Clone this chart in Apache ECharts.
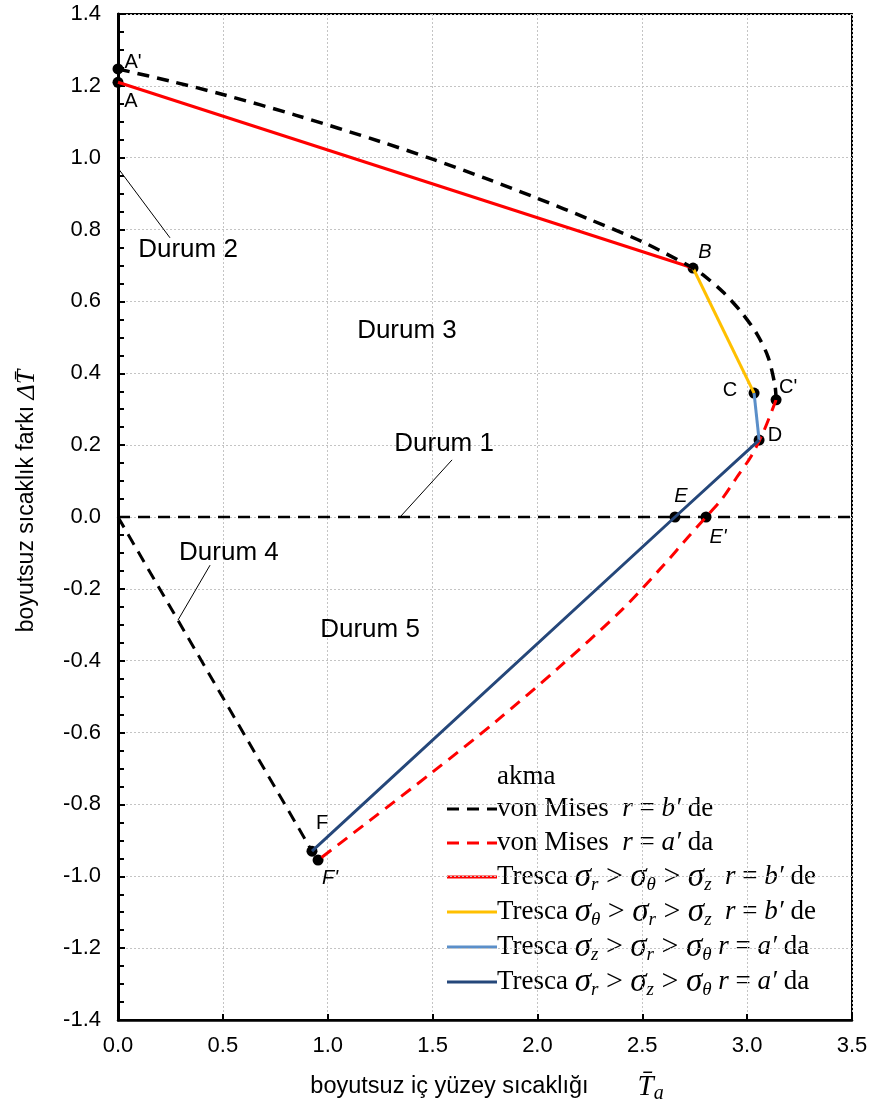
<!DOCTYPE html>
<html>
<head>
<meta charset="utf-8">
<script src="https://cdn.jsdelivr.net/npm/echarts@6/dist/echarts.min.js"></script>
<style>
  html, body { margin: 0; padding: 0; background: #fff; }
  #chart { width: 875px; height: 1118px; }
</style>
</head>
<body>
<div id="chart"></div>
<script>
// von Mises r = b' (black dashed)
const vmbX = [0, 0.25, 0.5, 0.85, 1.25, 1.5, 1.75, 2.0, 2.25, 2.5, 2.742, 2.79, 2.885, 2.971, 3.047, 3.1, 3.133, 3.138];
const vmbY = [1.247, 1.213, 1.176, 1.118, 1.045, 0.996, 0.943, 0.887, 0.828, 0.766, 0.693, 0.674, 0.626, 0.571, 0.509, 0.445, 0.365, 0.326];
// von Mises r = a' (red dashed)
const vmaX = [3.138, 3.08, 3.02, 2.95, 2.88, 2.804, 2.72, 2.6, 2.4, 2.1, 1.8, 1.5, 1.2, 0.954];
const vmaY = [0.326, 0.24, 0.17, 0.11, 0.05, 0, -0.055, -0.135, -0.26, -0.42, -0.57, -0.71, -0.845, -0.955];

// labelled points
const pointNames = ["A'", "A", "B", "C", "C'", "D", "E", "E'", "F", "F'"];
const pointX = [0, 0, 2.742, 3.033, 3.138, 3.057, 2.656, 2.804, 0.925, 0.954];
const pointY = [1.247, 1.21, 0.693, 0.345, 0.326, 0.214, 0, 0, -0.93, -0.955];
const italicPoints = ["B", "E", "E'", "F'"];
const labelOffset = [[15, -6], [13, 19], [12, -16], [-24, -3], [12, -12], [16, -5], [6, -21], [12, 20], [10, -28], [12, 18]];

// Tresca segments (by point name)
const trescaRTZ = ["A", "B"];
const trescaTRZ = ["B", "C"];
const trescaZRT = ["C", "D"];
const trescaRZT = ["D", "E", "F"];

// region labels
const durumNames = ["Durum 2", "Durum 3", "Durum 1", "Durum 4", "Durum 5"];
const durumX = [0.334, 1.378, 1.555, 0.529, 1.202];
const durumY = [0.743, 0.518, 0.203, -0.1, -0.314];
const leaders = [
  [[0.0, 0.971], [0.248, 0.777]],
  [[1.593, 0.159], [1.345, 0]],
  [[0.439, -0.134], [0.286, -0.287]]
];

const xTicks = { min: 0, max: 3.5, step: 0.5 };
const yTicks = { min: -1.4, max: 1.4, step: 0.2 };

const pt = (n) => { const i = pointNames.indexOf(n); return [pointX[i], pointY[i]]; };
const zip = (xs, ys) => xs.map((x, i) => [x, ys[i]]);

const RED = '#ff0000', ORANGE = '#ffc000', LBLUE = '#5b8fc9', DBLUE = '#25477a';
const DASH = [12, 8];
const SANS = "'Liberation Sans', Arial, sans-serif";
const SERIF = "'Liberation Serif', 'DejaVu Serif', serif";

const chart = echarts.init(document.getElementById('chart'), null, { renderer: 'canvas' });

const lineSeries = (name, data, color, width, type, extra) => Object.assign({
  name, type: 'line', data, symbol: 'none', silent: true,
  lineStyle: { color, width, type },
  animation: false
}, extra || {});

const leaderSeries = leaders.map((l, i) => lineSeries('leader' + i, l, '#000', 1, 'solid'));

// legend drawn with graphic elements
const legRich = {
  t: { fontFamily: SERIF, fontSize: 27, color: '#000' },
  g: { fontFamily: SERIF, fontSize: 30, color: '#000' },
  i: { fontFamily: SERIF, fontSize: 27, fontStyle: 'italic', color: '#000' },
  s: { fontFamily: SERIF, fontSize: 33, fontStyle: 'italic', color: '#000' },
  sub: { fontFamily: SERIF, fontSize: 19, fontStyle: 'italic', color: '#000', padding: [16, 0, 0, 0] }
};
const legendRows = [
  { color: '#000', dash: DASH, text: '{t|von Mises  }{i|r}{t| = }{i|b′}{t| de}' },
  { color: RED, dash: DASH, text: '{t|von Mises  }{i|r}{t| = }{i|a′}{t| da}' },
  { color: RED, dash: null, text: '{t|Tresca }{s|σ}{sub|r}{g| > }{s|σ}{sub|θ}{g| > }{s|σ}{sub|z}{t|  }{i|r}{t| = }{i|b′}{t| de}' },
  { color: ORANGE, dash: null, text: '{t|Tresca }{s|σ}{sub|θ}{g| > }{s|σ}{sub|r}{g| > }{s|σ}{sub|z}{t|  }{i|r}{t| = }{i|b′}{t| de}' },
  { color: LBLUE, dash: null, text: '{t|Tresca }{s|σ}{sub|z}{g| > }{s|σ}{sub|r}{g| > }{s|σ}{sub|θ}{t| }{i|r}{t| = }{i|a′}{t| da}' },
  { color: DBLUE, dash: null, text: '{t|Tresca }{s|σ}{sub|r}{g| > }{s|σ}{sub|z}{g| > }{s|σ}{sub|θ}{t| }{i|r}{t| = }{i|a′}{t| da}' }
];
const legendY = [809, 843, 877, 912, 947, 982];
const legendGraphic = [{
  type: 'text', x: 497, y: 777,
  style: { text: 'akma', font: '27px ' + SERIF, fill: '#000', verticalAlign: 'middle' }
}];
legendRows.forEach((r, k) => {
  legendGraphic.push({
    type: 'line',
    shape: { x1: 447, y1: legendY[k], x2: 497, y2: legendY[k] },
    style: { stroke: r.color, lineWidth: 3, lineDash: r.dash || null }
  });
  legendGraphic.push({
    type: 'text', x: 497, y: legendY[k],
    style: { text: r.text, rich: legRich, verticalAlign: 'middle', align: 'left' }
  });
});

// axis titles
legendGraphic.push({
  type: 'text', x: 27, y: 501, rotation: Math.PI / 2,
  style: {
    text: '{n|boyutsuz sıcaklık farkı }{m|ΔT\u0304}',
    align: 'center', verticalAlign: 'middle',
    rich: {
      n: { fontFamily: SANS, fontSize: 23, color: '#000' },
      m: { fontFamily: SERIF, fontSize: 26, fontStyle: 'italic', color: '#000' }
    }
  }
});
legendGraphic.push({
  type: 'text', x: 487, y: 1087,
  style: {
    text: '{n|boyutsuz iç yüzey sıcaklığı}{m|T\u0304}{a|a}',
    align: 'center', verticalAlign: 'middle',
    rich: {
      n: { fontFamily: SANS, fontSize: 23.5, color: '#000' },
      m: { fontFamily: SERIF, fontSize: 29, fontStyle: 'italic', color: '#000', padding: [0, 0, 0, 49] },
      a: { fontFamily: SERIF, fontSize: 20, fontStyle: 'italic', color: '#000', padding: [14, 0, 0, 0] }
    }
  }
});

const option = {
  backgroundColor: '#fff',
  animation: false,
  grid: { left: 118, right: 23, top: 14, bottom: 98, show: true, borderColor: '#000', borderWidth: 2 },
  xAxis: {
    type: 'value', min: xTicks.min, max: xTicks.max, interval: xTicks.step,
    axisLine: { show: true, onZero: false, lineStyle: { color: '#000', width: 2.5 } },
    axisTick: { show: true, inside: true, length: 6, lineStyle: { color: '#000', width: 2 } },
    axisLabel: { color: '#000', fontSize: 22, fontFamily: SANS, margin: 15, formatter: v => v.toFixed(1) },
    splitLine: { show: true, lineStyle: { color: '#c4c4c4', width: 1, type: [2, 2] } }
  },
  yAxis: {
    type: 'value', min: yTicks.min, max: yTicks.max, interval: yTicks.step,
    axisLine: { show: true, onZero: false, lineStyle: { color: '#000', width: 3 } },
    axisTick: { show: true, inside: true, length: 7, lineStyle: { color: '#000', width: 2 } },
    minorTick: { show: true, splitNumber: 4, length: 6, lineStyle: { color: '#000', width: 2 } },
    axisLabel: { color: '#000', fontSize: 22, fontFamily: SANS, margin: 17, formatter: v => v.toFixed(1) },
    splitLine: { show: true, lineStyle: { color: '#c4c4c4', width: 1, type: [2, 2] } }
  },
  graphic: legendGraphic,
  series: [
    lineSeries('zero', [[xTicks.min, 0], [xTicks.max, 0]], '#000', 2.5, DASH),
    lineSeries('durum4', [[0, 0], pt('F')], '#000', 3, DASH),
    ...leaderSeries,
    lineSeries('vmA', zip(vmaX, vmaY), RED, 3, DASH, { smooth: 0.3 }),
    lineSeries('trescaRTZ', trescaRTZ.map(pt), RED, 3, 'solid'),
    lineSeries('trescaTRZ', trescaTRZ.map(pt), ORANGE, 3, 'solid'),
    lineSeries('trescaZRT', trescaZRT.map(pt), LBLUE, 3, 'solid'),
    lineSeries('trescaRZT', trescaRZT.map(pt), DBLUE, 3, 'solid'),
    lineSeries('vmB', zip(vmbX, vmbY), '#000', 3.5, DASH, { smooth: 0.3 }),
    {
      name: 'points', type: 'scatter', symbol: 'circle', symbolSize: 11, silent: true,
      itemStyle: { color: '#000', opacity: 1 },
      data: pointNames.map((n, i) => ({
        value: [pointX[i], pointY[i]],
        label: {
          show: true, position: 'inside', formatter: n,
          offset: labelOffset[i],
          fontFamily: SANS, fontSize: 20, color: '#000',
          fontStyle: italicPoints.includes(n) ? 'italic' : 'normal'
        }
      }))
    },
    {
      name: 'durum', type: 'scatter', symbolSize: 0, silent: true,
      itemStyle: { opacity: 1 },
      data: durumNames.map((n, i) => ({
        value: [durumX[i], durumY[i]],
        label: { show: true, position: 'inside', formatter: n, fontFamily: SANS, fontSize: 26, color: '#000' }
      }))
    }
  ]
};
chart.setOption(option);
</script>
</body>
</html>
